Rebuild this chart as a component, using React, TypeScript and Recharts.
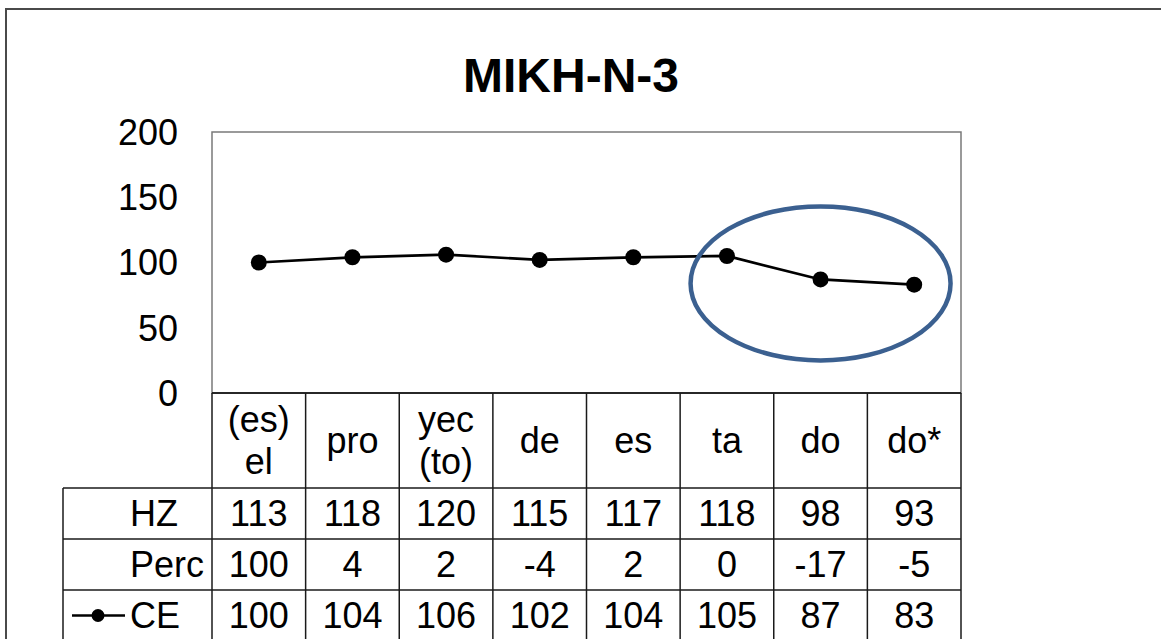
import React from 'react';
import { LineChart, Line, XAxis, YAxis, ReferenceArea, ReferenceDot } from 'recharts';

const title = 'MIKH-N-3';
const categories = ['(es)\nel', 'pro', 'yec\n(to)', 'de', 'es', 'ta', 'do', 'do*'];
const hzValues = [113, 118, 120, 115, 117, 118, 98, 93];
const percValues = [100, 4, 2, -4, 2, 0, -17, -5];
const ceValues = [100, 104, 106, 102, 104, 105, 87, 83];
const rowLabels = ['HZ', 'Perc', 'CE'];
const yTicks = [0, 50, 100, 150, 200];
const highlightCategory = 'do';
const highlightValue = 84;

const rowValues = [hzValues, percValues, ceValues];
const data = categories.map((c, i) => ({ cat: c, HZ: hzValues[i], Perc: percValues[i], CE: ceValues[i] }));

const FONT = '"Liberation Sans", Arial, sans-serif';
const FS = 36;
const HEADER_H = 95;
const ROW_H = 51;
const LABEL_W = 149;
const GRID = '#1a1a1a';

const TableTick = (props: any) => {
  const { x, y, payload } = props;
  const i = payload?.index ?? props.index ?? 0;
  const bw = payload?.offset ? payload.offset * 2 : 93.6;
  const left = x - bw / 2;
  const right = x + bw / 2;
  const lines = String(payload.value).split('\n');
  const bottom = y + HEADER_H + ROW_H * 3 + 20;
  const els: React.ReactNode[] = [];
  const hc = y + HEADER_H / 2;
  lines.forEach((ln, k) => {
    const cy = hc + (k - (lines.length - 1) / 2) * 42;
    els.push(
      <text key={'h' + k} x={x} y={cy} textAnchor="middle" dominantBaseline="central" fontSize={FS} fontFamily={FONT} fill="#000">
        {ln}
      </text>
    );
  });
  els.push(<line key="vr" x1={right} x2={right} y1={y} y2={bottom} stroke={GRID} strokeWidth={1.5} />);
  if (i === 0) {
    els.push(<line key="vl" x1={left} x2={left} y1={y} y2={bottom} stroke={GRID} strokeWidth={1.5} />);
    const tl = left - LABEL_W;
    els.push(<line key="vt" x1={tl} x2={tl} y1={y + HEADER_H} y2={bottom} stroke={GRID} strokeWidth={1.5} />);
    rowLabels.forEach((lab, r) => {
      const ry = y + HEADER_H + ROW_H * r;
      els.push(<line key={'lh' + r} x1={tl} x2={left} y1={ry} y2={ry} stroke={GRID} strokeWidth={1.5} />);
      const cy = ry + ROW_H / 2;
      if (r === rowLabels.length - 1) {
        els.push(<line key="legl" x1={tl + 9} x2={tl + 62} y1={cy} y2={cy} stroke="#000" strokeWidth={2.7} />);
        els.push(<circle key="legc" cx={tl + 35} cy={cy} r={6.5} fill="#000" />);
      }
      els.push(
        <text key={'lt' + r} x={tl + 67} y={cy} textAnchor="start" dominantBaseline="central" fontSize={FS} fontFamily={FONT} fill="#000">
          {lab}
        </text>
      );
    });
  }
  rowValues.forEach((vals, r) => {
    const ry = y + HEADER_H + ROW_H * r;
    els.push(<line key={'rh' + r} x1={left} x2={right} y1={ry} y2={ry} stroke={GRID} strokeWidth={1.5} />);
    els.push(
      <text key={'rv' + r} x={x} y={ry + ROW_H / 2} textAnchor="middle" dominantBaseline="central" fontSize={FS} fontFamily={FONT} fill="#000">
        {vals[i]}
      </text>
    );
  });
  return <g>{els}</g>;
};

const EllipseShape = (props: any) => (
  <ellipse cx={props.cx} cy={props.cy} rx={130} ry={77} fill="none" stroke="#3B6090" strokeWidth={4.5} />
);

const BigDot = (props: any) => {
  const { cx, cy, index } = props;
  if (cx == null || cy == null) return null;
  return <circle key={'d' + index} cx={cx} cy={cy} r={8} fill="#000" />;
};

export default function App() {
  return (
    <div style={{ position: 'absolute', left: 0, top: 0, width: 1161, height: 639, overflow: 'hidden', background: '#fff' }}>
      <div style={{ position: 'absolute', left: 5, top: 8, width: 1300, height: 800, border: '2px solid #4a4a4a', boxSizing: 'border-box' }} />
      <svg style={{ position: 'absolute', left: 0, top: 0 }} width={1161} height={639}>
        <text x={571} y={92} textAnchor="middle" fontSize={48} fontWeight="bold" fontFamily={FONT} fill="#000">
          {title}
        </text>
      </svg>
      <div style={{ position: 'absolute', left: 0, top: 0 }}>
        <LineChart width={1161} height={639} data={data} margin={{ top: 132, right: 200, bottom: 0, left: 0 }}>
          <XAxis
            dataKey="cat"
            scale="band"
            interval={0}
            height={246}
            tickLine={false}
            tickSize={0}
            tickMargin={0}
            axisLine={{ stroke: '#000', strokeWidth: 1.5 }}
            tick={<TableTick />}
          />
          <YAxis
            domain={[0, 200]}
            ticks={yTicks}
            width={212}
            axisLine={false}
            tickLine={false}
            tickSize={0}
            tickMargin={34}
            tick={{ fontSize: FS, fill: '#000', fontFamily: FONT }}
          />
          <ReferenceArea y1={0} y2={200} fill="none" stroke="#7a7a7a" strokeWidth={1.5} ifOverflow="visible" />
          <Line
            dataKey="CE"
            stroke="#000"
            strokeWidth={2.7}
            dot={<BigDot />}
            isAnimationActive={false}
          />
          <ReferenceDot x={highlightCategory} y={highlightValue} shape={<EllipseShape />} ifOverflow="visible" />
        </LineChart>
      </div>
    </div>
  );
}
